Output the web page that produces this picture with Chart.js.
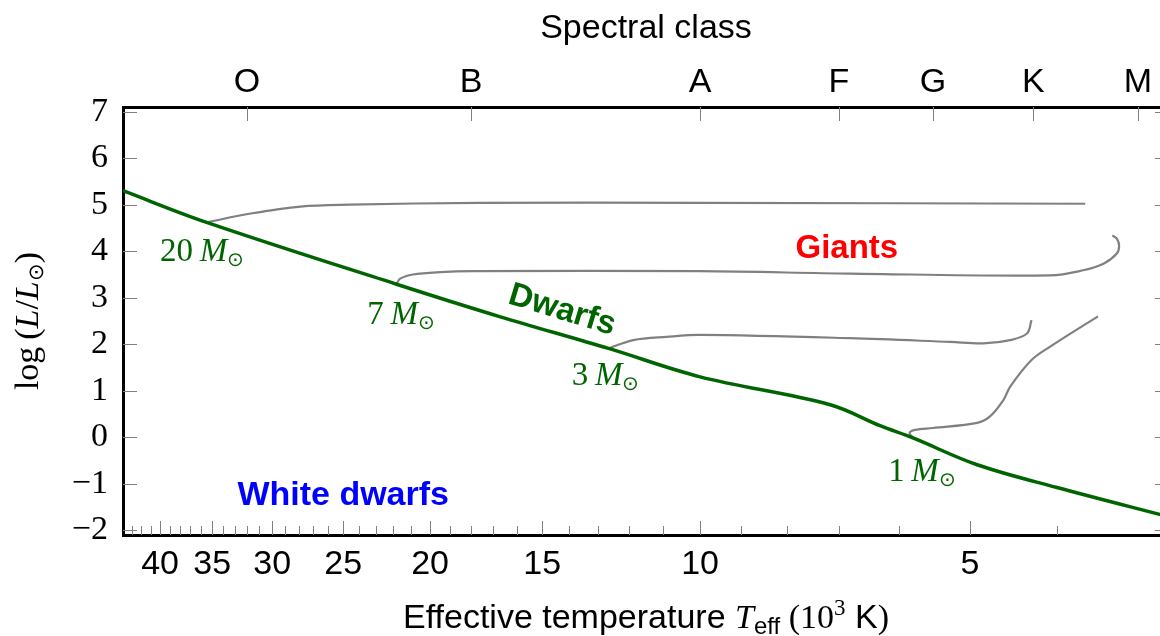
<!DOCTYPE html>
<html>
<head>
<meta charset="utf-8">
<script src="https://cdn.jsdelivr.net/npm/chart.js@4.4.1/dist/chart.umd.min.js"></script>
<style>
html,body{margin:0;padding:0;overflow:hidden;background:#fff;}
#wrap{width:1180px;height:636px;}
</style>
</head>
<body>
<div id="wrap"><canvas id="hr" width="1180" height="636"></canvas></div>
<script>
// temperature in 10^3 K, luminosity as log(L/Lsun)
const msT = [44, 35.5, 21.8, 16.7, 12.65, 10.0, 7.16, 6.30, 5.78, 4.91, 4.0, 3.0];
const msL = [5.30, 4.62, 3.29, 2.59, 1.91, 1.30, 0.70, 0.25, -0.02, -0.59, -1.08, -1.71];

const m20T = [35.5, 31.7, 27.9, 24.6, 17.6, 10.0, 3.72];
const m20L = [4.62, 4.81, 4.96, 5.00, 5.04, 5.04, 5.02];

const m7T = [21.8, 21.6, 20.9, 19.5, 17.9, 10.0, 6.80, 4.07, 3.74, 3.55, 3.43, 3.41, 3.43, 3.47];
const m7L = [3.29, 3.41, 3.50, 3.55, 3.57, 3.57, 3.52, 3.48, 3.59, 3.73, 3.95, 4.12, 4.27, 4.34];

const m3T = [12.65, 11.87, 10.89, 10.0, 6.80, 5.26, 4.83, 4.51, 4.32, 4.27];
const m3L = [1.91, 2.09, 2.16, 2.20, 2.13, 2.05, 2.02, 2.09, 2.23, 2.52];

const m1T = [5.78, 5.84, 5.76, 5.50, 4.91, 4.75, 4.59, 4.51, 4.27, 4.07, 3.60];
const m1L = [-0.02, 0.09, 0.16, 0.20, 0.31, 0.45, 0.80, 1.09, 1.66, 1.95, 2.60];

const tempTicks = [43,42,41,40,39,38,37,36,35,34,33,32,31,30,29,28,27,26,25,24,23,22,21,20,
  19,18,17,16,15,14,13,12,11,10,9,8,7,6,5,4];
const tempLabels = [40, 35, 30, 25, 20, 15, 10, 5];
const specT = [32, 18, 10, 7, 5.5, 4.25, 3.25];
const specNames = ['O', 'B', 'A', 'F', 'G', 'K', 'M'];
const lumTicks = [-2, -1, 0, 1, 2, 3, 4, 5, 6, 7];

const SANS = "'Liberation Sans', Arial, sans-serif";
const SERIF = "'Liberation Serif', 'Times New Roman', serif";
const GREEN = 'rgb(0,100,0)';
const GREY = 'rgb(128,128,128)';

function pts(ts, ls) { return ts.map((t, i) => ({x: t, y: ls[i]})); }

function richWidth(ctx, segs) {
  let w = 0;
  segs.forEach(s => { ctx.font = s.font; w += ctx.measureText(s.t).width; });
  return w;
}
function drawRich(ctx, segs, x, y) {
  segs.forEach(s => {
    ctx.font = s.font;
    ctx.fillText(s.t, x, y + (s.dy || 0));
    x += ctx.measureText(s.t).width;
  });
}
function massSegs(n) {
  return [
    {t: n + '\u2009', font: '33px ' + SERIF},
    {t: 'M', font: 'italic 33px ' + SERIF},
    {t: '\u2299', font: '20px ' + SERIF, dy: 5}
  ];
}

// annotation anchors in data units
const massLabels = [
  {n: '20', T: 40, L: 3.80},
  {n: '7', T: 23.5, L: 2.43},
  {n: '3', T: 13.9, L: 1.13},
  {n: '1', T: 6.17, L: -0.945}
];

const inwardTicks = {
  id: 'inwardTicks',
  beforeDatasetsDraw(chart) {
    const {ctx, chartArea: a, scales} = chart;
    ctx.save();
    ctx.strokeStyle = GREY;
    ctx.lineWidth = 1;
    ctx.beginPath();
    scales.x.ticks.forEach(t => {
      const px = Math.round(scales.x.getPixelForValue(t.value)) + 0.5;
      const len = tempLabels.includes(t.value) ? 14 : 9;
      ctx.moveTo(px, a.bottom); ctx.lineTo(px, a.bottom - len);
    });
    scales.x2.ticks.forEach(t => {
      const px = Math.round(scales.x2.getPixelForValue(t.value)) + 0.5;
      ctx.moveTo(px, a.top); ctx.lineTo(px, a.top + 14);
    });
    scales.y.ticks.forEach(t => {
      const py = Math.round(scales.y.getPixelForValue(t.value)) + 0.5;
      ctx.moveTo(a.left, py); ctx.lineTo(a.left + 14, py);
      ctx.moveTo(a.right, py); ctx.lineTo(a.right - 14, py);
    });
    ctx.stroke();
    ctx.restore();
  }
};

const annotations = {
  id: 'annotations',
  afterDraw(chart) {
    const {ctx, chartArea: a, scales} = chart;
    const X = v => scales.x.getPixelForValue(v), Y = v => scales.y.getPixelForValue(v);
    ctx.save();
    ctx.textBaseline = 'alphabetic';
    ctx.textAlign = 'left';

    // mass labels
    ctx.fillStyle = GREEN;
    massLabels.forEach(m => drawRich(ctx, massSegs(m.n), X(m.T), Y(m.L)));

    // region labels
    ctx.textAlign = 'center';
    ctx.textBaseline = 'middle';
    ctx.font = 'bold 33px ' + SANS;
    ctx.fillStyle = 'rgb(255,0,0)';
    ctx.fillText('Giants', X(6.86), Y(4.06));
    ctx.font = 'bold 34px ' + SANS;
    ctx.fillStyle = 'rgb(0,0,255)';
    ctx.fillText('White dwarfs', X(25.0), Y(-1.25));
    ctx.save();
    ctx.translate(X(14.25), Y(2.73));
    ctx.rotate(17 * Math.PI / 180);
    ctx.font = 'bold 33px ' + SANS;
    ctx.fillStyle = GREEN;
    ctx.fillText('Dwarfs', 0, 0);
    ctx.restore();

    // axis titles
    ctx.textBaseline = 'alphabetic';
    ctx.fillStyle = '#000';
    const cx = (a.left + a.right) / 2;
    ctx.font = '34px ' + SANS;
    ctx.textAlign = 'center';
    ctx.fillText('Spectral class', cx, 38);
    ctx.textAlign = 'left';

    const bottomSegs = [
      {t: 'Effective temperature ', font: '34px ' + SANS},
      {t: 'T', font: 'italic 34px ' + SERIF},
      {t: 'eff', font: '24px ' + SANS, dy: 6},
      {t: ' (10', font: '34px ' + SERIF},
      {t: '3', font: '23px ' + SERIF, dy: -13},
      {t: ' K', font: '34px ' + SANS},
      {t: ')', font: '34px ' + SERIF}
    ];
    drawRich(ctx, bottomSegs, cx - richWidth(ctx, bottomSegs) / 2, 628);

    const leftSegs = [
      {t: 'log\u2009(', font: '34px ' + SERIF},
      {t: 'L', font: 'italic 34px ' + SERIF},
      {t: '/', font: '34px ' + SERIF},
      {t: 'L', font: 'italic 34px ' + SERIF},
      {t: '\u2299', font: '21px ' + SERIF, dy: 5},
      {t: ')', font: '34px ' + SERIF}
    ];
    ctx.save();
    ctx.translate(38, (a.top + a.bottom) / 2);
    ctx.rotate(-Math.PI / 2);
    drawRich(ctx, leftSegs, -richWidth(ctx, leftSegs) / 2, 0);
    ctx.restore();
    ctx.restore();
  }
};

const line = (data, color, width, tension) => ({
  data, showLine: true, borderColor: color, borderWidth: width,
  pointRadius: 0, tension, fill: false
});

new Chart(document.getElementById('hr'), {
  type: 'scatter',
  data: {
    datasets: [
      line(pts(msT, msL), GREEN, 3.5, 0.35),
      line(pts(m20T, m20L), GREY, 2.2, 0.35),
      line(pts(m7T, m7L), GREY, 2.2, 0.35),
      line(pts(m3T, m3L), GREY, 2.2, 0.35),
      line(pts(m1T, m1L), GREY, 2.2, 0.35)
    ]
  },
  options: {
    responsive: false,
    animation: false,
    devicePixelRatio: 1,
    layout: {padding: 0},
    plugins: {legend: {display: false}, tooltip: {enabled: false}},
    scales: {
      x: {
        type: 'logarithmic', position: 'bottom', reverse: true, min: 3, max: 44,
        afterBuildTicks: s => { s.ticks = tempTicks.map(v => ({value: v})); },
        afterFit: s => { s.height = 101; },
        grid: {drawOnChartArea: false, drawTicks: false},
        border: {color: '#000', width: 3},
        ticks: {
          autoSkip: false, maxRotation: 0, padding: 9, color: '#000',
          font: {family: SANS, size: 34},
          callback: v => tempLabels.includes(v) ? String(v) : ''
        }
      },
      x2: {
        type: 'logarithmic', position: 'top', reverse: true, min: 3, max: 44,
        afterBuildTicks: s => { s.ticks = specT.map(v => ({value: v})); },
        afterFit: s => { s.height = 107; },
        grid: {drawOnChartArea: false, drawTicks: false},
        border: {color: '#000', width: 3},
        ticks: {
          autoSkip: false, maxRotation: 0, padding: 4, color: '#000',
          font: {family: SANS, size: 34},
          callback: (v, i) => specNames[i]
        }
      },
      y: {
        type: 'linear', position: 'left', min: -2.1, max: 7.1,
        afterBuildTicks: s => { s.ticks = lumTicks.map(v => ({value: v})); },
        afterFit: s => { s.width = 123; },
        grid: {drawOnChartArea: false, drawTicks: false},
        border: {color: '#000', width: 3},
        ticks: {
          padding: 15, color: '#000',
          font: {family: SERIF, size: 34},
          callback: v => v < 0 ? '\u2212' + Math.abs(v) : String(v)
        }
      },
      y2: {
        type: 'linear', position: 'right', min: -2.1, max: 7.1,
        afterBuildTicks: s => { s.ticks = lumTicks.map(v => ({value: v})); },
        afterFit: s => { s.width = 11; },
        grid: {drawOnChartArea: false, drawTicks: false},
        border: {color: '#000', width: 3},
        ticks: {display: false}
      }
    }
  },
  plugins: [inwardTicks, annotations]
});
</script>
</body>
</html>
